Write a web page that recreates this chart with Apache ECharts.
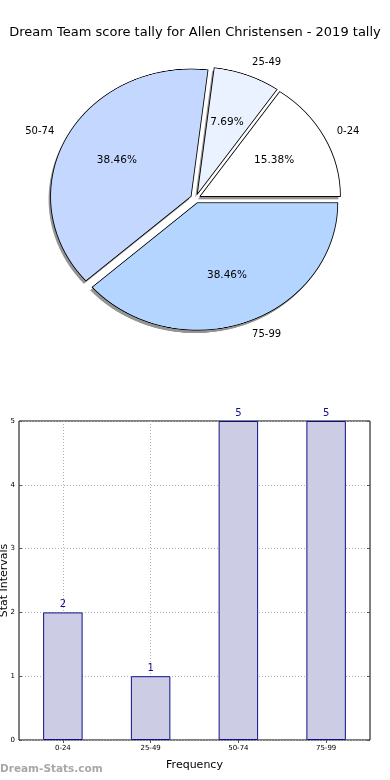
<!DOCTYPE html>
<html>
<head>
<meta charset="utf-8">
<script src="https://cdn.jsdelivr.net/npm/echarts@6/dist/echarts.min.js"></script>
<style>
html,body{margin:0;padding:0;background:#fff;}
#wrap{position:relative;width:390px;height:780px;overflow:hidden;background:#fff;}
#pie{position:absolute;left:0;top:0;width:390px;height:400px;transform-origin:0 198.5px;}
#c{position:absolute;left:0;top:0;width:390px;height:780px;}
</style>
</head>
<body>
<div id="wrap"><div id="pie"></div><div id="c"></div></div>
<script>
var titleText = 'Dream Team score tally for Allen Christensen - 2019 tally';
var categories = ['0-24', '25-49', '50-74', '75-99'];
var counts = [2, 1, 5, 5];
var sliceColors = ['#ffffff', '#eaf1ff', '#c4d8ff', '#b4d5ff'];
var yTicks = [0, 1, 2, 3, 4, 5];

var total = counts.reduce(function (a, b) { return a + b; }, 0);
var fontFam = 'DejaVu Sans';

// pie geometry (the reference pie is an ellipse: rx 140.5, ry 127.4)
var pieCenter = [195.5, 198.5];
var pieRx = 140.5;
var pieRy = 127.4;
var squash = pieRy / pieRx;
var explode = 5;
var shadowShift = [-2, 3];
var outerLabelR = 134;
var outerLabelLen = 20.5;
var innerLabelR = pieRx * 1.15;
var innerLabelFrac = 0.58;

document.getElementById('pie').style.transform = 'scaleY(' + squash + ')';

// mid angle of each slice (degrees, counter-clockwise from 3 o'clock)
var midAngles = [];
(function () {
  var cum = 0;
  counts.forEach(function (v) {
    midAngles.push(360 * (cum + v / 2) / total);
    cum += v;
  });
})();

// vertical label shifts that turn the circular label ring into the ellipse
var outerShift = midAngles.map(function (a) {
  var s = Math.sin(a * Math.PI / 180);
  return ((outerLabelR + explode + outerLabelLen) - (1.1 * pieRy + explode)) * s;
});
var innerShift = midAngles.map(function (a) {
  var s = Math.sin(a * Math.PI / 180);
  return (innerLabelR / 2 - innerLabelFrac * pieRy) * s;
});

function pieData(kind) {
  return categories.map(function (c, i) {
    var d = { name: c, value: counts[i], selected: true };
    if (kind === 'main') {
      d.itemStyle = { color: sliceColors[i] };
    } else if (kind === 'shadow') {
      d.itemStyle = { color: 'rgba(0,0,0,0.42)' };
    } else {
      d.itemStyle = { color: 'rgba(0,0,0,0)' };
    }
    return d;
  });
}

var pieCommon = {
  type: 'pie',
  startAngle: 0,
  clockwise: false,
  selectedMode: 'multiple',
  selectedOffset: explode,
  avoidLabelOverlap: false,
  minShowLabelAngle: 0,
  silent: true,
  emphasis: { disabled: true }
};

// wedges (drawn in a vertically squashed layer to get the ellipse)
var pieChart = echarts.init(document.getElementById('pie'), null, { renderer: 'canvas', devicePixelRatio: 2 });
pieChart.setOption({
  animation: false,
  series: [
    Object.assign({}, pieCommon, {
      center: [pieCenter[0] + shadowShift[0], pieCenter[1] + shadowShift[1] / squash],
      radius: [0, pieRx],
      itemStyle: { borderWidth: 0 },
      label: { show: false },
      labelLine: { show: false },
      data: pieData('shadow')
    }),
    Object.assign({}, pieCommon, {
      center: pieCenter,
      radius: [0, pieRx],
      itemStyle: { borderColor: '#000', borderWidth: 0.85 },
      label: { show: false },
      labelLine: { show: false },
      data: pieData('main')
    })
  ]
});

var chart = echarts.init(document.getElementById('c'), null, { renderer: 'canvas' });
chart.setOption({
  animation: false,
  title: {
    text: titleText,
    left: 'center',
    top: 21,
    textStyle: { fontFamily: fontFam, fontSize: 13, fontWeight: 'normal', color: '#000' }
  },
  graphic: [{
    type: 'text',
    left: 0,
    top: 764,
    style: { text: 'Dream-Stats.com', font: 'bold 10.5px "DejaVu Sans"', fill: '#a8a8a8' }
  }],
  grid: {
    left: 19, right: 20, top: 421, bottom: 40,
    outerBoundsMode: 'none',
    containLabel: false,
    show: true, borderColor: '#000', borderWidth: 1, backgroundColor: 'transparent'
  },
  xAxis: [{
    type: 'category',
    data: categories,
    name: 'Frequency',
    nameLocation: 'middle',
    nameGap: 20,
    nameTextStyle: { fontFamily: fontFam, fontSize: 11, color: '#000' },
    axisLine: { show: false },
    axisTick: { show: true, inside: true, alignWithLabel: true, length: 3, lineStyle: { color: '#555' } },
    axisLabel: { fontFamily: fontFam, fontSize: 7, color: '#000', margin: 5 },
    splitLine: { show: true, alignWithLabel: true, lineStyle: { type: [1, 2], color: '#b0b0b0' } }
  }, {
    type: 'category',
    data: categories,
    position: 'top',
    axisLine: { show: false },
    axisTick: { show: true, inside: true, alignWithLabel: true, length: 3, lineStyle: { color: '#555' } },
    axisLabel: { show: false },
    splitLine: { show: false }
  }],
  yAxis: [{
    type: 'value',
    min: 0, max: 5, interval: 1,
    name: 'Stat Intervals',
    nameLocation: 'middle',
    nameGap: 9,
    nameMoveOverlap: false,
    nameTextStyle: { fontFamily: fontFam, fontSize: 11, color: '#000' },
    axisLine: { show: false },
    axisTick: { show: true, inside: true, length: 3, lineStyle: { color: '#555' } },
    axisLabel: { fontFamily: fontFam, fontSize: 7, color: '#000', margin: 4 },
    splitLine: { show: true, lineStyle: { type: [1, 2], color: '#b0b0b0' } }
  }, {
    type: 'value',
    min: 0, max: 5, interval: 1,
    position: 'right',
    axisLine: { show: false },
    axisTick: { show: true, inside: true, length: 3, lineStyle: { color: '#555' } },
    axisLabel: { show: false },
    splitLine: { show: false }
  }],
  series: [
    {
      type: 'bar',
      data: counts,
      barWidth: '45%',
      itemStyle: { color: '#ccccE5', borderColor: '#10108a', borderWidth: 1 },
      label: { show: true, position: 'top', distance: 3, color: '#10108a', fontFamily: fontFam, fontSize: 10 },
      silent: true
    },
    Object.assign({}, pieCommon, {
      center: pieCenter,
      radius: [0, outerLabelR],
      itemStyle: { borderWidth: 0 },
      label: {
        show: true, position: 'outside', fontFamily: fontFam, fontSize: 10, color: '#000',
        distanceToLabelLine: 0,
        formatter: '{b}'
      },
      labelLine: { show: false, length: outerLabelLen, length2: 0 },
      labelLayout: function (p) { return { dy: outerShift[p.dataIndex] }; },
      data: pieData('outer')
    }),
    Object.assign({}, pieCommon, {
      center: pieCenter,
      radius: [0, innerLabelR],
      itemStyle: { borderWidth: 0 },
      label: {
        show: true, position: 'inside', fontFamily: fontFam, fontSize: 10.5, color: '#000',
        formatter: function (p) { return (p.value / total * 100).toFixed(2) + '%'; }
      },
      labelLine: { show: false },
      labelLayout: function (p) { return { dy: innerShift[p.dataIndex] }; },
      data: pieData('inner')
    })
  ]
});
</script>
</body>
</html>
